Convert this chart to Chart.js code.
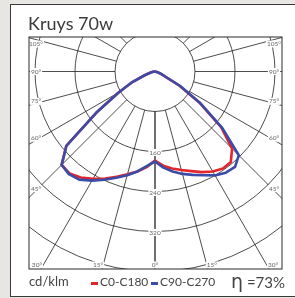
<!DOCTYPE html>
<html>
<head>
<meta charset="utf-8">
<script src="https://cdn.jsdelivr.net/npm/chart.js@4"></script>
<style>
  html, body { margin:0; padding:0; }
  body { width:295px; height:298px; background:#e8e6e3; position:relative; overflow:hidden; font-family:Lato, 'Open Sans', sans-serif; color:#444; }
  #panel { position:absolute; left:10px; top:4px; width:300px; height:291px; background:#fff; border:1.5px solid #3a3a3a; border-right:none; }
  #wrap { position:absolute; left:0; top:0; width:295px; height:298px; }
  .t { position:absolute; white-space:nowrap; line-height:1; }
  #title { left:28px; top:14px; font-size:18px; color:#3b3b3b; }
  #unit { left:29px; top:275px; font-size:13px; }
  .leg { top:276px; font-size:12px; }
  .dash { position:absolute; width:7px; height:3px; top:282px; }
  #eta { left:231px; top:272px; font-size:15px; }
  #eta b { font-weight:400; font-size:19px; font-family:'DejaVu Sans', sans-serif; }
</style>
</head>
<body>
<div id="panel"></div>
<div id="wrap"><canvas id="polar" width="295" height="298"></canvas></div>
<div class="t" id="title">Kruys 70w</div>
<div class="t" id="unit">cd/klm</div>
<div class="dash" id="d0" style="left:91px;"></div>
<div class="t leg" style="left:100px;">C0-C180</div>
<div class="dash" id="d1" style="left:151px;"></div>
<div class="t leg" style="left:160px;">C90-C270</div>
<div class="t" id="eta"><b>η</b> =73%</div>
<script>
// gamma angles (deg from nadir) and intensities in cd/klm
const gamma = [0,5,10,15,20,25,30,35,40,45,50,55,60,65,70,75,80,85,90];
const c0   = [178,189,197,204,212,222,231,237,236,218,172,108,56,18,10,5,2,1,0];
const c90  = [180,193,203,212,220,229,240,247,249,237,176,111,58,20,10,5,2,1,0];
const c180 = [178,192,203,213,224,236,248,259,266,264,232,143,84,50,22,10,4,1,0];
const c270 = [180,190,203,215,226,239,252,264,268,264,231,143,84,50,22,10,4,1,0];

const gridRadii = [80,160,240,320,400,480];
const radiusLabels = [160,240,320];
const angleLines = [0,15,30,45,60,75,90,105,120,135,150,165,180];
const angleLabels = [0,15,30,45,60,75,90,105];

const RED = '#e3262c', BLUE = '#3a4ca8';
document.getElementById('d0').style.background = RED;
document.getElementById('d1').style.background = BLUE;

const rad = d => d * Math.PI / 180;
// left half runs 90 -> 0, right half 0 -> 90
function curve(left, right) {
  const pts = [];
  for (let i = gamma.length - 1; i >= 0; i--) pts.push({ x: -left[i] * Math.sin(rad(gamma[i])), y: -left[i] * Math.cos(rad(gamma[i])) });
  for (let i = 0; i < gamma.length; i++) pts.push({ x: right[i] * Math.sin(rad(gamma[i])), y: -right[i] * Math.cos(rad(gamma[i])) });
  return pts;
}

const polarGrid = {
  id: 'polarGrid',
  beforeDatasetsDraw(chart) {
    const { ctx, chartArea: a, scales: { x, y } } = chart;
    const cx = x.getPixelForValue(0), cy = y.getPixelForValue(0);
    const k = x.getPixelForValue(100) - cx;   // px per 100 cd/klm
    ctx.save();
    ctx.beginPath(); ctx.rect(a.left, a.top, a.right - a.left, a.bottom - a.top); ctx.clip();
    ctx.strokeStyle = '#1e1e1e'; ctx.lineWidth = 0.8;
    gridRadii.forEach(r => { ctx.beginPath(); ctx.arc(cx, cy, r * k / 100, 0, Math.PI * 2); ctx.stroke(); });
    const r0 = gridRadii[0] * k / 100, r1 = 700 * k / 100;
    angleLines.forEach(g => [-1, 1].forEach(s => {
      const dx = s * Math.sin(rad(g)), dy = Math.cos(rad(g));
      ctx.beginPath(); ctx.moveTo(cx + dx * r0, cy + dy * r0); ctx.lineTo(cx + dx * r1, cy + dy * r1); ctx.stroke();
    }));
    // labels
    ctx.font = '6.5px Lato, sans-serif';
    ctx.textAlign = 'center'; ctx.textBaseline = 'middle';
    const lab = (txt, px, py) => {
      const w = ctx.measureText(txt).width;
      ctx.fillStyle = '#fff'; ctx.fillRect(px - w / 2 - 1, py - 3.5, w + 2, 7);
      ctx.fillStyle = '#666'; ctx.fillText(txt, px, py);
    };
    radiusLabels.forEach(r => lab(String(r), cx, cy + r * k / 100 + 1));
    angleLabels.forEach(g => [-1, 1].forEach(s => {
      if (g === 0 && s === 1) return;
      const t = Math.tan(rad(g));
      const sideY = cy + (g === 90 ? 0 : (cx - a.left) / t);
      if (g >= 45 && sideY < a.bottom) {
        const xx = s < 0 ? a.left + 7 : a.right - 8;
        let yy = cy + (Math.abs(xx - cx)) / Math.tan(rad(g)) - (g === 90 ? 0 : 2);
        yy = Math.max(yy, a.top + 7);
        lab(g + '°', xx, yy);
      } else {
        const ex = cx + s * (a.bottom - cy) * t;
        lab(g + '°', ex + (g === 0 ? 0 : s * 4), a.bottom - 4);
      }
    }));
    ctx.restore();
  },
  afterDraw(chart) {
    const { ctx, chartArea: a } = chart;
    ctx.save();
    ctx.strokeStyle = '#2a2a2a'; ctx.lineWidth = 1;
    ctx.strokeRect(a.left, a.top, a.right - a.left, a.bottom - a.top);
    ctx.restore();
  }
};

new Chart(document.getElementById('polar'), {
  type: 'scatter',
  data: { datasets: [
    { label: 'C90-C270', data: curve(c270, c90), borderColor: BLUE, order: 0 },
    { label: 'C0-C180', data: curve(c180, c0), borderColor: RED, order: 1 },
  ] },
  options: {
    responsive: false, animation: false, devicePixelRatio: 1,
    layout: { padding: { left: 29, top: 37, right: 13, bottom: 29 } },
    elements: { line: { borderWidth: 2.6, tension: 0, borderJoinStyle: 'round' }, point: { radius: 0 } },
    datasets: { scatter: { showLine: true } },
    plugins: { legend: { display: false }, tooltip: { enabled: false } },
    scales: {
      x: { type: 'linear', min: -252, max: 254, display: false },
      y: { type: 'linear', min: -395, max: 69, display: false },
    },
  },
  plugins: [polarGrid],
});
</script>
</body>
</html>
